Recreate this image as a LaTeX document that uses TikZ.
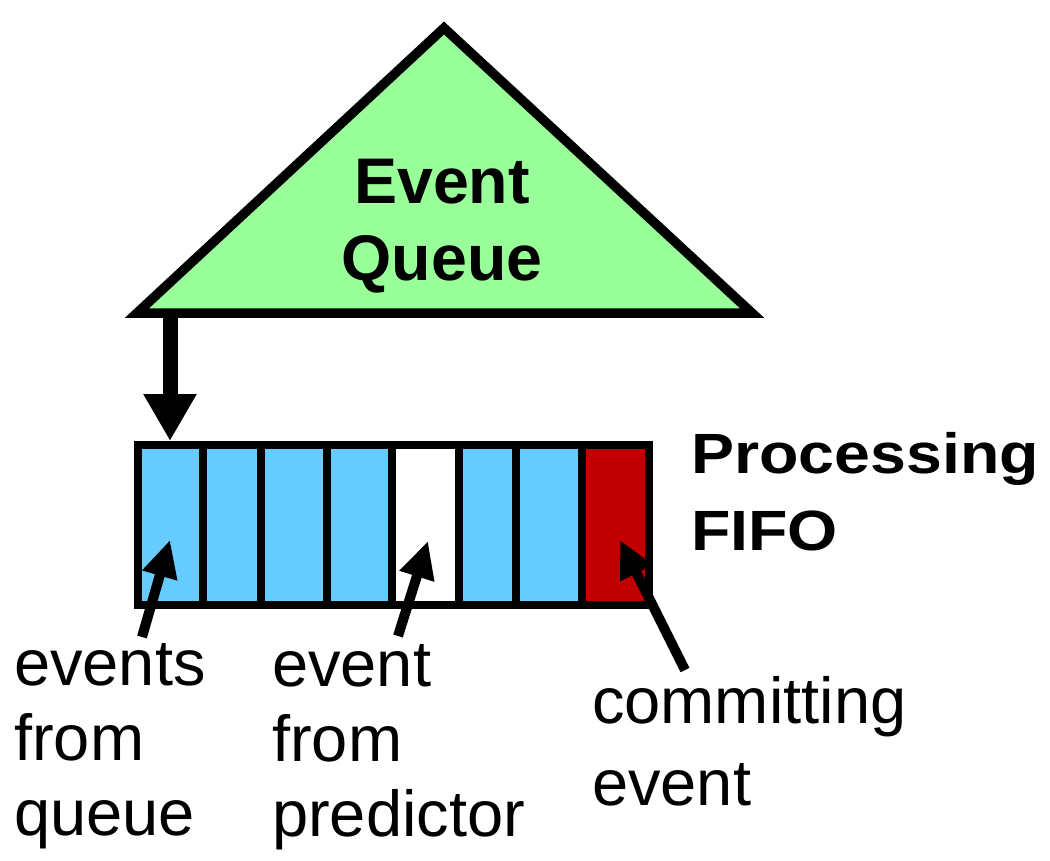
\documentclass[tikz,border=0pt]{standalone}
\usepackage{fontspec}
\setmainfont{Liberation Sans}
\usetikzlibrary{arrows.meta}
\definecolor{qgreen}{HTML}{99FF99}
\definecolor{qblue}{HTML}{66CCFF}
\definecolor{qred}{HTML}{C00000}
\begin{document}
\begin{tikzpicture}[x=1pt,y=-1pt,
  cell/.style={draw=black,line width=8pt,minimum height=160pt,inner sep=0pt,anchor=center},
  lbl/.style={font=\fontsize{65}{75}\selectfont,align=left,inner sep=0pt,anchor=base west},
  ttl/.style={font=\fontsize{64.5}{77}\selectfont\bfseries,inner sep=0pt},
  uparrow/.style={line width=10pt,-{Triangle[length=37pt,width=34pt]}},
  downarrow/.style={line width=15pt,-{Triangle[length=47pt,width=50pt]}}]
\useasboundingbox (0,0) rectangle (1050,860);
% event queue triangle
\coordinate (apex) at (444,28);
\coordinate (bl) at (137,313);
\coordinate (br) at (752,313);
\draw[fill=qgreen,line width=9.5pt,line join=miter] (apex) -- (bl) -- (br) -- cycle;
\node[ttl,align=center,anchor=base] (eq) at (442,280) {Event\\Queue};
% FIFO cells
\node[cell,fill=qblue,minimum width=65pt]   (c1) at (170,525) {};
\node[cell,fill=qblue,minimum width=58pt]   (c2) at (231.5,525) {};
\node[cell,fill=qblue,minimum width=66.5pt] (c3) at (293.75,525) {};
\node[cell,fill=qblue,minimum width=64.5pt] (c4) at (359.25,525) {};
\node[cell,fill=white,minimum width=67pt]   (c5) at (425,525) {};
\node[cell,fill=qblue,minimum width=57pt]   (c6) at (487,525) {};
\node[cell,fill=qblue,minimum width=66pt]   (c7) at (548.5,525) {};
\node[cell,fill=qred,minimum width=67pt]    (c8) at (615,525) {};
% arrow from queue to FIFO
\coordinate (qout) at (170,313);
\draw[downarrow] (qout) -- (c1.north);
% labels
\node[ttl,align=left,anchor=base west] (pf) at (691,550) {\scalebox{1}[0.88]{Processing}\\\scalebox{1}[0.88]{FIFO}};
\node[lbl] (l1) at (14,835) {events\\from\\queue};
\node[lbl] (l2) at (272,836) {event\\from\\predictor};
\node[lbl,font=\fontsize{65}{82}\selectfont] (l3) at (592,805) {committing\\event};
% pointer arrows
\coordinate (t1) at (142,637);
\coordinate (h1) at (170,540);
\coordinate (t2) at (398,636);
\coordinate (h2) at (428,541);
\coordinate (t3) at (685,670);
\coordinate (h3) at (620,540);
\draw[uparrow] (t1) -- (h1);
\draw[uparrow] (t2) -- (h2);
\draw[uparrow] (t3) -- (h3);
\end{tikzpicture}
\end{document}
